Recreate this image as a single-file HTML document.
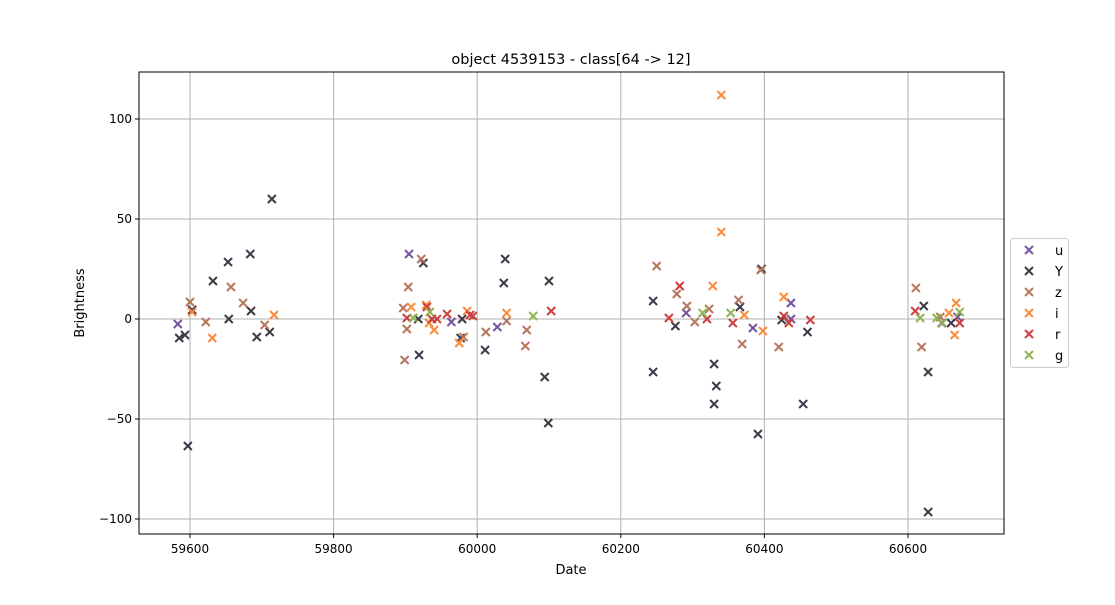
<!DOCTYPE html>
<html><head><meta charset="utf-8"><style>
body{margin:0;background:#fff;width:1115px;height:600px;overflow:hidden}
svg text{font-family:"DejaVu Sans","Liberation Sans",sans-serif;fill:#000}
</style></head><body>
<svg id="chart" width="1115" height="600"></svg>
<script>
const bands=["u","Y","z","i","r","g"];
const colors=["#76559e","#3d3b48","#b6775d","#fa8c3b","#cd3e3e","#8fb453"];
const uX=[59583,59964,60028,59905,60291,60384,60437,60437,60647,60669];
const uY=[-2.5,-1.5,-4,32.5,3,-4.5,8,0,-2,1];
const YX=[59585,59593,59597,59603,59632,59653,59654,59684,59685,59693,59711,59714,59925,59919,59918,59977,59979,60039,60037,60011,60100,60094,60099,60245,60276,60366,60396,60424,60460,60245,60330,60333,60330,60391,60454,60622,60660,60628,60628];
const YY=[-9.5,-8,-63.5,4.5,19,28.5,0,32.5,4,-9,-6.5,60,28,-18,0,-9.5,0,30,18,-15.5,19,-29,-52,9,-3.5,6,25,-0.5,-6.5,-26.5,-22.5,-33.5,-42.5,-57.5,-42.5,6.5,-2,-96.5,-26.5];
const zX=[59600,59622,59657,59674,59704,59922,59904,59897,59902,59899,59981,60012,60041,60069,60067,60250,60278,60292,60303,60323,60364,60395,60369,60420,60611,60619,60645];
const zY=[8.5,-1.5,16,8,-3,30,16,5.5,-5,-20.5,-9,-6.5,-1,-5.5,-13.5,26.5,12.5,6.5,-1.5,5,9.5,24.5,-12.5,-14,15.5,-14,1];
const iX=[59603,59631,59717,59908,59929,59933,59940,59975,59986,60041,60328,60372,60398,60427,60340,60340,60667,60665,60657];
const iY=[3.5,-9.5,2,6,7,-2,-5.5,-12,4,3,16.5,2,-6,11,112,43.5,8,-8,3];
const rX=[59902,59930,59937,59944,59958,59990,59994,60103,60282,60267,60320,60356,60427,60434,60464,60610,60672];
const rY=[0.5,6,0,0,2.5,2,1.5,4,16.5,0.5,0,-2,1.5,-2,-0.5,4,-2];
const gX=[59911,59934,60078,60314,60353,60617,60648,60672,60640];
const gY=[0.5,3.5,1.5,3,3,0.5,-2,3.5,0.5];
const series=[[uX,uY],[YX,YY],[zX,zY],[iX,iY],[rX,rY],[gX,gY]];
const xTicks=[59600,59800,60000,60200,60400,60600];
const yTicks=[-100,-50,0,50,100];
const L=139,R=1004,T=72,B=534;
const sx=v=>190+(v-59600)*0.718;
const sy=v=>319-v*2;
const svg=document.getElementById('chart');
const NS="http://www.w3.org/2000/svg";
function mk(t,a,p){const e=document.createElementNS(NS,t);for(const k in a)e.setAttribute(k,a[k]);(p||svg).appendChild(e);return e;}
const grid=mk('g',{});


xTicks.forEach(t=>{const x=sx(t);
 mk('line',{x1:x,x2:x,y1:T,y2:B,stroke:'#b0b0b0','stroke-width':1},grid);
 mk('line',{x1:x,x2:x,y1:B,y2:B+4,stroke:'#000'});
 const tx=mk('text',{x:x,y:B+19,'font-size':12,'text-anchor':'middle'});tx.textContent=t;
 
 });
yTicks.forEach(t=>{const y=sy(t);
 mk('line',{x1:L,x2:R,y1:y,y2:y,stroke:'#b0b0b0','stroke-width':1},grid);
 mk('line',{x1:L-4,x2:L,y1:y,y2:y,stroke:'#000'});
 const tx=mk('text',{x:L-7,y:y+4,'font-size':12,'text-anchor':'end'});tx.textContent=t<0?'\u2212'+(-t):t;
 
 });
function cross(x,y,c,p){const s=4;const g=mk('g',{stroke:c,'stroke-width':2},p);
 mk('line',{x1:x-s,y1:y-s,x2:x+s,y2:y+s},g);mk('line',{x1:x-s,y1:y+s,x2:x+s,y2:y-s},g);return g;}
series.forEach((s,i)=>{const g=mk('g',{});
 
 
 s[0].forEach((xv,j)=>{const m=cross(sx(xv),sy(s[1][j]),colors[i],g);
  
  });});
const frame=mk('rect',{x:L,y:T,width:R-L,height:B-T,fill:'none',stroke:'#000','stroke-width':1});


const title=mk('text',{x:571,y:64,'font-size':14.5,'text-anchor':'middle'});title.textContent='object 4539153 - class[64 -> 12]';


const xl=mk('text',{x:571,y:574,'font-size':13,'text-anchor':'middle'});xl.textContent='Date';


const yl=mk('text',{x:84,y:303,'font-size':13,'text-anchor':'middle',transform:'rotate(-90 84 303)'});yl.textContent='Brightness';


const lg=mk('g',{});


mk('rect',{x:1010.5,y:238.5,width:58,height:129,rx:3,fill:'#fff',stroke:'#ccc'},lg);
bands.forEach((b,i)=>{const y=250+i*21;const e=mk('g',{},lg);
 
 
 cross(1029,y,colors[i],e);
 const t=mk('text',{x:1055,y:y+5,'font-size':13},e);t.textContent=b;});
</script>
</body></html>
